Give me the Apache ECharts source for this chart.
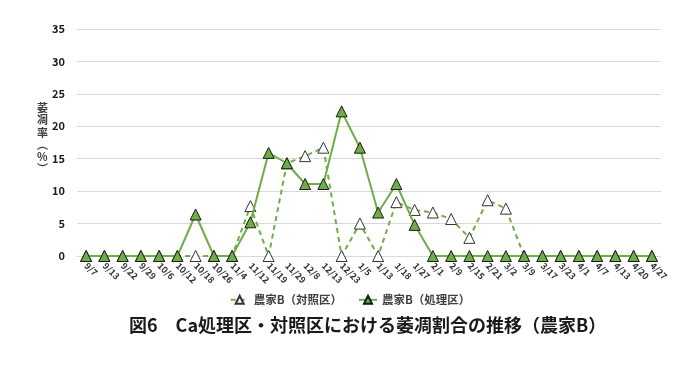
<!DOCTYPE html>
<html>
<head>
<meta charset="utf-8">
<script src="https://cdn.jsdelivr.net/npm/echarts@6/dist/echarts.min.js"></script>
<style>
html,body{margin:0;padding:0;background:#fff;}
#c{width:700px;height:368px;}
</style>
</head>
<body>
<div id="c"></div>
<script>
var categories = ['9/7','9/13','9/22','9/29','10/6','10/12','10/18','10/26','11/4','11/12','11/19','11/29','12/8','12/13','12/23','1/5','1/13','1/18','1/27','2/1','2/9','2/15','2/21','3/2','3/9','3/17','3/23','4/1','4/7','4/13','4/20','4/27'];
var controlValues = [0,0,0,0,0,0,0,0,0,7.7,0,14.3,15.4,16.7,0,5.0,0,8.3,7.1,6.7,5.7,2.8,8.6,7.3,0,0,0,0,0,0,0,0];
var treatedValues = [0,0,0,0,0,0,6.4,0,0,5.2,15.9,14.3,11.1,11.1,22.3,16.7,6.7,11.1,4.8,0,0,0,0,0,0,0,0,0,0,0,0,0];
var yTicks = [0,5,10,15,20,25,30,35];
var seriesNames = ['農家B（対照区）','農家B（処理区）'];
var titleText = '図6　Ca処理区・対照区における萎凋割合の推移（農家B）';
var yName = '萎\n凋\n率\n︵\n%\n︶';

var green = '#70AD47';
var font = '"Noto Sans CJK JP", "Noto Sans", sans-serif';
var chart = echarts.init(document.getElementById('c'));
chart.setOption({
  animation: false,
  textStyle: {fontFamily: font},
  title: {
    text: titleText, left: 124, top: 311,
    textStyle: {fontSize: 18, fontWeight: 'bold', color: '#1a1a1a', fontFamily: font}
  },
  legend: {
    top: 289, left: 'center', itemWidth: 18, itemHeight: 10, itemGap: 16,
    textStyle: {fontSize: 11.5, fontWeight: 'bold', color: '#404040', fontFamily: font},
    data: seriesNames
  },
  graphic: [{
    type: 'text', left: 37, top: 102,
    style: {text: yName, fontSize: 11, fontWeight: 'bold', fill: '#404040', lineHeight: 12.2,
      align: 'center', fontFamily: font}
  }],
  grid: {left: 77, right: 39, top: 29, bottom: 112},
  xAxis: {
    type: 'category', data: categories, boundaryGap: true,
    axisLine: {show: true, lineStyle: {color: '#d9d9d9', width: 1}},
    axisTick: {show: false},
    axisLabel: {interval: 0, rotate: -45, fontSize: 9, fontWeight: 'bold', color: '#333', margin: 8, fontFamily: font}
  },
  yAxis: {
    type: 'value', min: yTicks[0], max: yTicks[yTicks.length-1], interval: 5,
    axisLine: {show: false}, axisTick: {show: false},
    splitLine: {lineStyle: {color: '#d9d9d9', width: 1}},
    axisLabel: {fontSize: 11, fontWeight: 'bold', color: '#1a1a1a', margin: 12, fontFamily: font}
  },
  series: [
    {
      name: seriesNames[0], type: 'line', data: controlValues,
      symbol: 'triangle', symbolSize: 11, z: 2,
      lineStyle: {color: green, width: 2, type: [5, 4]},
      itemStyle: {color: '#ffffff', borderColor: '#333333', borderWidth: 1}
    },
    {
      name: seriesNames[1], type: 'line', data: treatedValues,
      symbol: 'triangle', symbolSize: 11, z: 3,
      lineStyle: {color: green, width: 2},
      itemStyle: {color: green, borderColor: '#1a1a1a', borderWidth: 1}
    }
  ]
});
</script>
</body>
</html>
